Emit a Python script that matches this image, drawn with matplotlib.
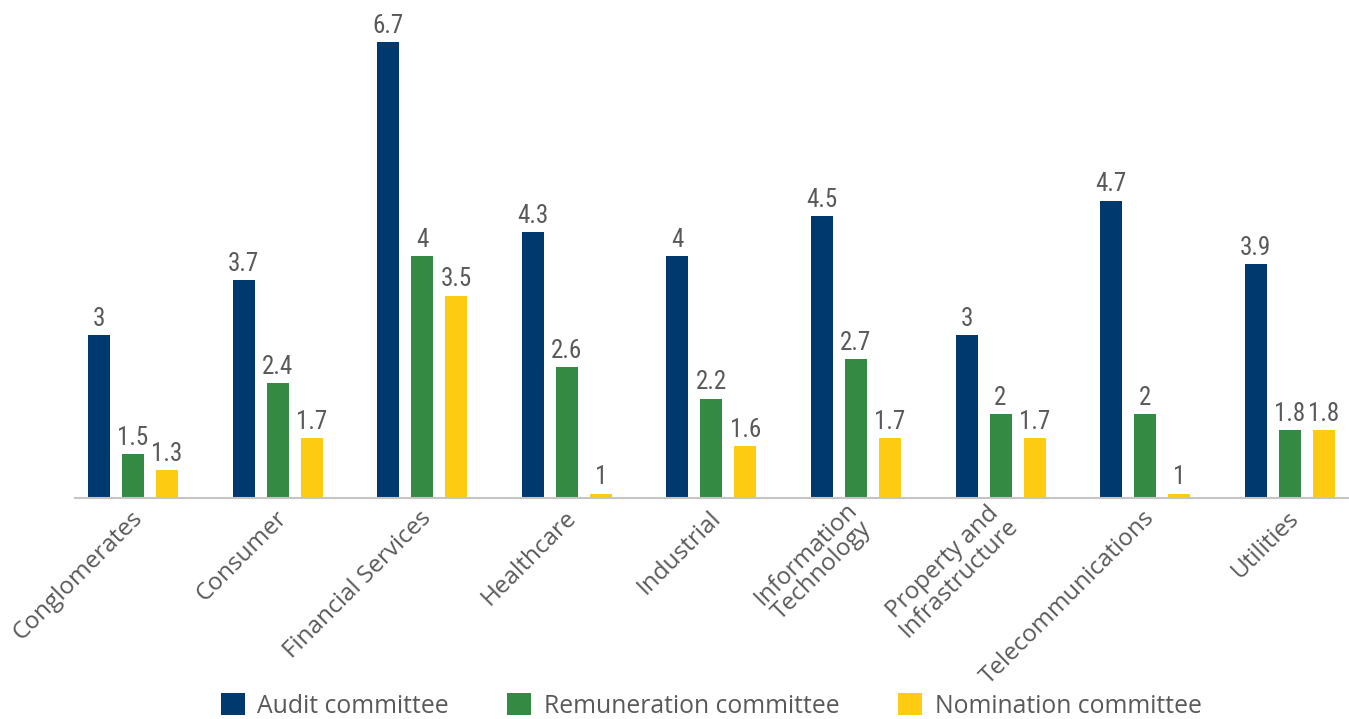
import matplotlib
matplotlib.use("Agg")
import matplotlib.pyplot as plt
import matplotlib.transforms as mtransforms
from matplotlib import font_manager
import numpy as np

sectors = ["Conglomerates", "Consumer", "Financial Services", "Healthcare",
           "Industrial", "Information\nTechnology", "Property and\nInfrastructure",
           "Telecommunications", "Utilities"]
audit = [3, 3.7, 6.7, 4.3, 4, 4.5, 3, 4.7, 3.9]
remuneration = [1.5, 2.4, 4, 2.6, 2.2, 2.7, 2, 2, 1.8]
nomination = [1.3, 1.7, 3.5, 1, 1.6, 1.7, 1.7, 1, 1.8]
series_names = ["Audit committee", "Remuneration committee", "Nomination committee"]

colors = ["#00396E", "#358A43", "#FDCB12"]
text_color = "#595959"

installed = {f.name for f in font_manager.fontManager.ttflist}
label_font = "Open Sans" if "Open Sans" in installed else "DejaVu Sans"
value_font = label_font
for name in ["Liberation Sans Narrow", "Roboto Condensed"]:
    if name in installed:
        value_font = name
        break

fig = plt.figure(figsize=(13.49, 7.19), dpi=100)
ax = fig.add_axes([75 / 1349, 1 - 497.5 / 719, 1 - 75 / 1349, (497.5 - 18.4) / 719])

x = np.arange(len(sectors))
width = 0.152
step = 0.235

for k, (vals, name) in enumerate(zip([audit, remuneration, nomination], series_names)):
    bars = ax.bar(x + (k - 1) * step, vals, width, color=colors[k], label=name)
    for rect, v in zip(bars, vals):
        ax.annotate(f"{v:g}", (rect.get_x() + rect.get_width() / 2, v),
                    xytext=(0, 3), textcoords="offset points",
                    ha="center", va="bottom", fontsize=18,
                    family=[value_font, "DejaVu Sans"], color=text_color)

ax.set_xlim(-0.401, 8.41)
ax.set_ylim(0.95, 7.0)

for side in ["top", "right", "left"]:
    ax.spines[side].set_visible(False)
ax.spines["bottom"].set_color("#C4C4C4")
ax.spines["bottom"].set_linewidth(1.5)
ax.set_yticks([])
ax.set_xticks([])

# rotated category labels below the baseline
offset = mtransforms.ScaledTranslation(6 / 100, -17 / 100, fig.dpi_scale_trans)
trans = mtransforms.blended_transform_factory(ax.transData, ax.transAxes) + offset
for xi, name in zip(x, sectors):
    ax.text(xi, 0, name, transform=trans, rotation=45, rotation_mode="anchor",
            ha="right", va="center", multialignment="center", linespacing=0.95,
            fontsize=17.5, family=[label_font, "DejaVu Sans"], color=text_color)

leg = fig.legend(loc="center", bbox_to_anchor=(711 / 1349, 1 - 706 / 719), ncol=3,
                 frameon=False, handlelength=0.97, handleheight=0.97,
                 handletextpad=0.52, columnspacing=2.35,
                 prop={"family": label_font, "size": 17.8})
for t in leg.get_texts():
    t.set_color(text_color)

fig.savefig("out.png", dpi=100)
